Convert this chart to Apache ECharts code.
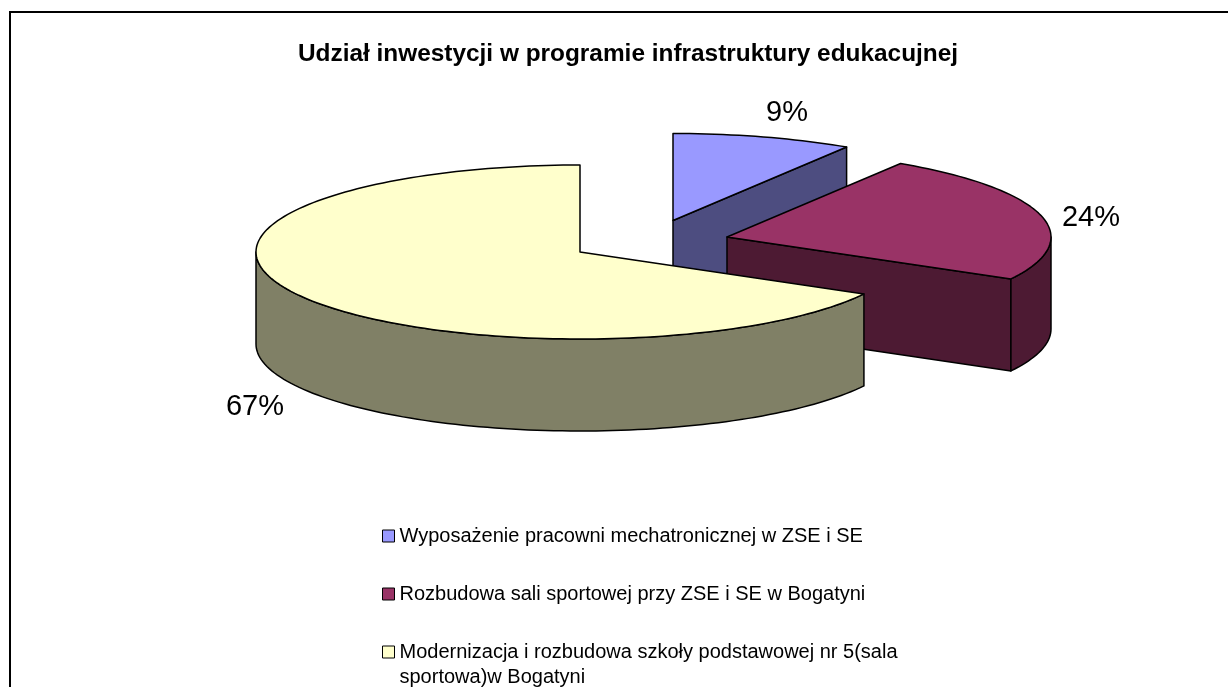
<!DOCTYPE html>
<html>
<head>
<meta charset="utf-8">
<style>html,body{margin:0;padding:0;background:#fff}#c{width:1228px;height:687px}</style>
<script src="https://cdn.jsdelivr.net/npm/echarts@6/dist/echarts.min.js"></script>
</head>
<body>
<div id="c"></div>
<script>
const chartTitle = 'Udział inwestycji w programie infrastruktury edukacujnej';
const categories = [
  'Wyposażenie pracowni mechatronicznej w ZSE i SE',
  'Rozbudowa sali sportowej przy ZSE i SE w Bogatyni',
  'Modernizacja i rozbudowa szkoły podstawowej nr 5(sala\nsportowa)w Bogatyni'
];
const shares = [9, 24, 67];
const topColors = ['#9999ff', '#993366', '#ffffcc'];
const sideColors = ['#4d4d80', '#4d1a33', '#808066'];
// layout of the pseudo-3D pie
const centers = [[673, 220.5], [727, 237], [580, 252]];
const labelPositions = [[787, 113], [1091, 218], [255, 407]];
const legendTops = [536, 594, 652];
const RX = 324, RY = 87, DEPTH = 92;

const chart = echarts.init(document.getElementById('c'), null, {renderer: 'canvas'});
const total = shares.reduce((a, b) => a + b, 0);
const starts = [];
shares.reduce((acc, v, i) => { starts[i] = acc; return acc + v; }, 0);

const pt = (c, deg, dy) => {
  const r = deg * Math.PI / 180;
  return [c[0] + RX * Math.sin(r), c[1] - RY * Math.cos(r) + (dy || 0)];
};
const arc = (c, a, b, dy) => {
  const pts = [];
  const n = Math.max(2, Math.ceil(Math.abs(b - a) / 1.5));
  for (let i = 0; i <= n; i++) pts.push(pt(c, a + (b - a) * i / n, dy));
  return pts;
};

function sliceItem(idx) {
  return function (params, api) {
    const value = api.value(0);
    const a0 = starts[idx] / total * 360;
    const a1 = a0 + value / total * 360;
    const c = centers[idx];
    const lineStyle = {stroke: '#000', lineWidth: 1.5, lineJoin: 'round'};
    const sideStyle = Object.assign({fill: sideColors[idx]}, lineStyle);
    const poly = (points, style) => ({type: 'polygon', shape: {points}, style, silent: true});
    const radial = (deg) => poly([c, pt(c, deg), pt(c, deg, DEPTH), [c[0], c[1] + DEPTH]], sideStyle);
    const children = [];
    if (Math.sin(a1 * Math.PI / 180) > 1e-6) children.push(radial(a1));
    if (Math.sin(a0 * Math.PI / 180) < -1e-6) children.push(radial(a0));
    const f0 = Math.max(a0, 90), f1 = Math.min(a1, 270);
    if (f1 > f0) {
      children.push(poly(arc(c, f0, f1).concat(arc(c, f1, f0, DEPTH)), sideStyle));
    }
    children.push(poly([c].concat(arc(c, a0, a1)), Object.assign({fill: topColors[idx]}, lineStyle)));
    children.push({
      type: 'text', silent: true,
      style: {
        x: labelPositions[idx][0], y: labelPositions[idx][1],
        text: value + '%', fill: '#000',
        font: '29px "Liberation Sans", Arial, sans-serif',
        align: 'center', verticalAlign: 'middle'
      }
    });
    return {type: 'group', children};
  };
}

const legendFont = {fontFamily: '"Liberation Sans", Arial, sans-serif', fontSize: 20, color: '#000', lineHeight: 25};

chart.setOption({
  animation: false,
  backgroundColor: '#fff',
  color: topColors,
  title: {
    text: chartTitle,
    left: 623, top: 37, textAlign: 'center',
    textStyle: {fontFamily: '"Liberation Sans", Arial, sans-serif', fontSize: 24.4, fontWeight: 'bold', color: '#000'}
  },
  legend: categories.map((name, i) => {
    const multi = name.indexOf('\n') >= 0;
    const blockH = multi ? 75 : 25;
    return {
      data: [name], orient: 'vertical', left: 382, top: legendTops[i] - blockH / 2, padding: 0,
      icon: 'rect', itemWidth: 12, itemHeight: 12, selectedMode: false,
      itemStyle: {borderColor: '#000', borderWidth: 1},
      formatter: (n) => multi ? '\n' + n : n,
      textStyle: legendFont
    };
  }),
  graphic: [{
    type: 'polyline', silent: true,
    shape: {points: [[10, 687], [10, 12], [1228, 12]]},
    style: {stroke: '#000', lineWidth: 2, fill: null}
  }],
  series: categories.map((name, i) => ({
    type: 'custom',
    name,
    coordinateSystem: 'none',
    z: i + 2,
    renderItem: sliceItem(i),
    data: [[shares[i]]],
    itemStyle: {color: topColors[i]},
    tooltip: {show: false}
  }))
});
</script>
</body>
</html>
